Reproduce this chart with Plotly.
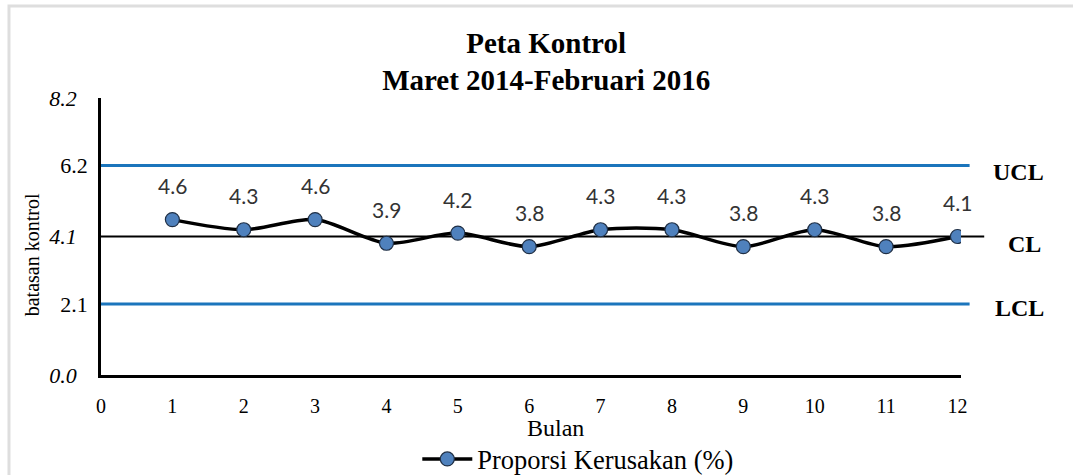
import plotly.graph_objects as go

bulan = [1, 2, 3, 4, 5, 6, 7, 8, 9, 10, 11, 12]
proporsi = [4.6, 4.3, 4.6, 3.9, 4.2, 3.8, 4.3, 4.3, 3.8, 4.3, 3.8, 4.1]
UCL = 6.2
CL = 4.1
LCL = 2.1
y_tickvals = [0.0, 2.1, 4.1, 6.2, 8.2]
y_ticktext = ["<i>0.0</i>\u00a0\u00a0", "2.1", "<i>4.1</i>\u00a0\u00a0", "6.2", "<i>8.2</i>\u00a0\u00a0"]
x_tickvals = [0, 1, 2, 3, 4, 5, 6, 7, 8, 9, 10, 11, 12]

serif = "Liberation Serif, Times New Roman, serif"

fig = go.Figure()

fig.add_trace(go.Scatter(
    x=bulan, y=proporsi, mode="lines+markers",
    name="Proporsi Kerusakan (%)",
    line=dict(color="black", width=3.5, shape="spline", smoothing=0.8),
    marker=dict(size=14, color="#4F81BD", line=dict(color="#1f2f45", width=1.2)),
))

# data labels
for xv, yv in zip(bulan, proporsi):
    fig.add_annotation(x=xv, y=yv, text=f"{yv:.1f}", showarrow=False,
                       xanchor="center", yanchor="middle",
                       yshift=34, font=dict(family="Lato, Open Sans, sans-serif", size=21, color="#333333"))

# control lines
fig.add_shape(type="line", xref="paper", yref="y", x0=0, x1=1.01, y0=UCL, y1=UCL,
              line=dict(color="#1B75BC", width=3))
fig.add_shape(type="line", xref="paper", yref="y", x0=0, x1=1.01, y0=LCL, y1=LCL,
              line=dict(color="#1B75BC", width=3))
fig.add_shape(type="line", xref="paper", yref="y", x0=0, x1=1.027, y0=CL, y1=CL,
              line=dict(color="black", width=2), layer="below")

for lbl, yv, xp, ys in [("UCL", UCL, 1.067, -6), ("CL", CL, 1.074, -7), ("LCL", LCL, 1.068, -4)]:
    fig.add_annotation(xref="paper", yref="y", x=xp, y=yv, text=f"<b>{lbl}</b>", showarrow=False,
                       xanchor="center", yanchor="middle",
                       yshift=ys, font=dict(family=serif, size=24, color="black"))

# chart border (left & top, light grey)
fig.add_shape(type="path", xref="paper", yref="paper",
              path="M -0.107,-0.6 L -0.107,1.332 L 1.2,1.332",
              line=dict(color="#dedede", width=3))

# axis title annotations
fig.add_annotation(xref="paper", yref="paper", x=0.528, y=-0.193, text="Bulan", showarrow=False,
                   xanchor="center", yanchor="middle",
                   font=dict(family=serif, size=24, color="black"))
fig.add_annotation(xref="paper", yref="paper", x=-0.080, y=0.433, text="batasan kontrol", showarrow=False,
                   xanchor="center", yanchor="middle",
                   textangle=-90, font=dict(family=serif, size=20, color="black"))

fig.update_layout(
    width=1073, height=500,
    margin=dict(l=101, r=112, t=98, b=125),
    paper_bgcolor="white", plot_bgcolor="white",
    title=dict(text="<b>Peta Kontrol<br>Maret 2014-Februari 2016</b>", x=0.509, xanchor="center",
               xref="container", yref="container", y=0.895, yanchor="middle",
               font=dict(family=serif, size=29, color="black")),
    showlegend=True,
    legend=dict(orientation="h", x=0.555, xanchor="center", y=-0.304, yanchor="middle",
                font=dict(family=serif, size=26.5, color="black"), bgcolor="rgba(0,0,0,0)",
                itemwidth=50),
    xaxis=dict(range=[0, 12.05], tickvals=x_tickvals, showgrid=False, zeroline=False,
               showline=True, linecolor="black", linewidth=2.5, ticks="",
               ticklabelstandoff=11, automargin=False,
               tickfont=dict(family=serif, size=20, color="black")),
    yaxis=dict(range=[0, 8.2], tickvals=y_tickvals, ticktext=y_ticktext, showgrid=False,
               zeroline=False, showline=True, linecolor="black", linewidth=2.5, ticks="",
               ticklabelstandoff=6, automargin=False,
               tickfont=dict(family=serif, size=22, color="black")),
)

fig.write_html("out.html", config={"displayModeBar": False},
               post_script="document.body.style.margin='0';document.body.style.overflow='hidden';")
